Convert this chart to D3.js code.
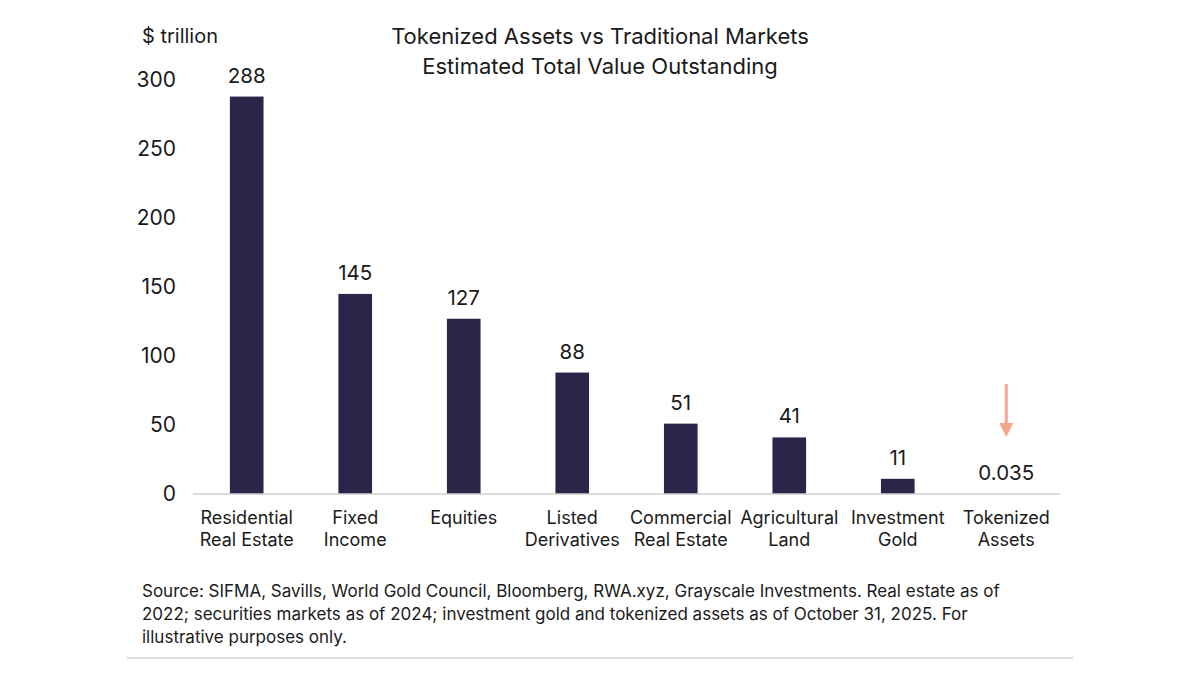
<!DOCTYPE html>
<meta charset="utf-8">
<div id="chart"></div>
<style>
body { margin: 0; background: #fff; font-family: 'Inter', 'Noto Sans', sans-serif; }
</style>
<script src="https://d3js.org/d3.v7.min.js"></script>
<script>
var categories = [
    ['Residential', 'Real Estate'],
    ['Fixed', 'Income'],
    ['Equities'],
    ['Listed', 'Derivatives'],
    ['Commercial', 'Real Estate'],
    ['Agricultural', 'Land'],
    ['Investment', 'Gold'],
    ['Tokenized', 'Assets']
];
var values = [288, 145, 127, 88, 51, 41, 11, 0.035];
var valueLabels = ['288', '145', '127', '88', '51', '41', '11', '0.035'];
var yTicks = [0, 50, 100, 150, 200, 250, 300];
var sourceLines = [
    'Source: SIFMA, Savills, World Gold Council, Bloomberg, RWA.xyz, Grayscale Investments. Real estate as of',
    '2022; securities markets as of 2024; investment gold and tokenized assets as of October 31, 2025. For',
    'illustrative purposes only.'
];

var w = 1200, h = 675;
var barColor = '#2d2449';
var textColor = '#1a1a1a';

var svg = d3.select('#chart').append('svg')
    .attr('width', w)
    .attr('height', h);

var x = d3.scaleBand()
    .domain(d3.range(values.length))
    .range([193, 1060])
    .paddingInner(0.69)
    .paddingOuter(0.34);

var y = d3.scaleLinear()
    .domain([0, 300])
    .range([494, 80]);

// title
svg.append('text')
    .attr('x', 600).attr('y', 44)
    .attr('text-anchor', 'middle')
    .style('font-size', '22px').style('fill', textColor)
    .text('Tokenized Assets vs Traditional Markets');
svg.append('text')
    .attr('x', 600).attr('y', 74)
    .attr('text-anchor', 'middle')
    .style('font-size', '22px').style('fill', textColor)
    .text('Estimated Total Value Outstanding');

svg.append('text')
    .attr('x', 142).attr('y', 43)
    .style('font-size', '20px').style('fill', textColor)
    .text('$ trillion');

// y axis labels, no line
var yAxis = svg.append('g')
    .attr('transform', 'translate(176,0)')
    .call(d3.axisLeft(y).tickValues(yTicks).tickSize(0).tickPadding(0));
yAxis.select('.domain').remove();
yAxis.selectAll('text')
    .style('font-size', '21px')
    .style('font-family', "'Inter', 'Noto Sans', sans-serif")
    .style('fill', textColor);

// bars
svg.selectAll('.bar')
    .data(values)
    .enter().append('rect')
    .attr('class', 'bar')
    .attr('x', function(d, i) { return x(i); })
    .attr('width', x.bandwidth())
    .attr('y', function(d) { return y(d); })
    .attr('height', function(d) { return y(0) - y(d); })
    .style('fill', barColor);

// baseline
svg.append('line')
    .attr('x1', x.range()[0]).attr('x2', x.range()[1])
    .attr('y1', y(0)).attr('y2', y(0))
    .style('stroke', '#d0d0d0').style('stroke-width', 1.5);

// value labels
svg.selectAll('.val')
    .data(values)
    .enter().append('text')
    .attr('class', 'val')
    .attr('x', function(d, i) { return x(i) + x.bandwidth() / 2; })
    .attr('y', function(d, i) { return i === values.length - 1 ? y(d) - 14 : y(d) - 14; })
    .attr('text-anchor', 'middle')
    .style('font-size', '20.5px').style('fill', textColor)
    .text(function(d, i) { return valueLabels[i]; });

// arrow over tokenized assets
var last = values.length - 1;
var ax = x(last) + x.bandwidth() / 2;
svg.append('line')
    .attr('x1', ax).attr('x2', ax)
    .attr('y1', 384).attr('y2', 425)
    .style('stroke', '#f5a58c').style('stroke-width', 3);
svg.append('path')
    .attr('d', 'M' + (ax - 7) + ',423 L' + (ax + 7) + ',423 L' + ax + ',437 Z')
    .style('fill', '#f5a58c');

// category labels
var cat = svg.selectAll('.cat')
    .data(categories)
    .enter().append('text')
    .attr('class', 'cat')
    .attr('text-anchor', 'middle')
    .style('font-size', '18px').style('fill', textColor);
cat.selectAll('tspan')
    .data(function(d, i) { return d.map(function(t) { return { t: t, i: i }; }); })
    .enter().append('tspan')
    .attr('x', function(d) { return x(d.i) + x.bandwidth() / 2; })
    .attr('y', function(d, j) { return 524 + j * 22; })
    .text(function(d) { return d.t; });

// source
svg.selectAll('.src')
    .data(sourceLines)
    .enter().append('text')
    .attr('class', 'src')
    .attr('x', 142)
    .attr('y', function(d, i) { return 597 + i * 23; })
    .style('font-size', '17px').style('fill', textColor)
    .text(function(d) { return d; });

svg.append('line')
    .attr('x1', 127).attr('x2', 1073)
    .attr('y1', 658).attr('y2', 658)
    .style('stroke', '#dddddd').style('stroke-width', 2);
</script>
